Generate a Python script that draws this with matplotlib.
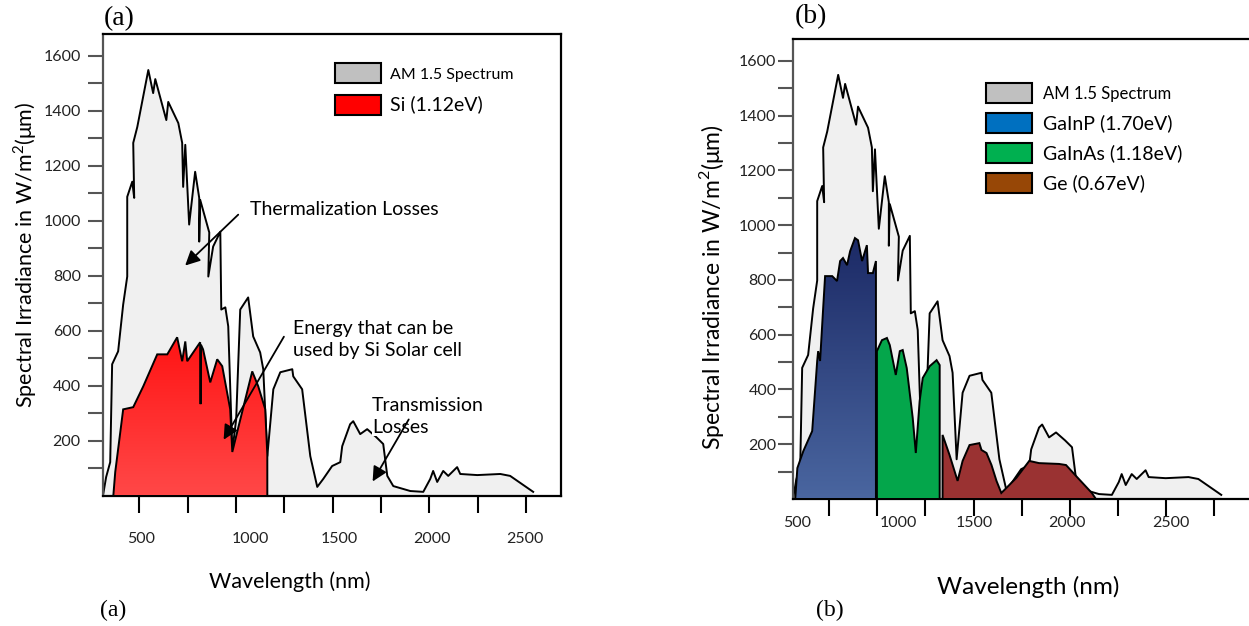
import numpy as np
import matplotlib.pyplot as plt
from matplotlib.patches import Patch
from matplotlib.colors import LinearSegmentedColormap

plt.rcParams['font.family'] = ['Lato', 'DejaVu Sans']
plt.rcParams['mathtext.fontset'] = 'custom'
plt.rcParams['mathtext.rm'] = 'Lato'

# AM 1.5 spectrum outline (nm, W/m2/um)
am_wl = [314, 329, 350, 360, 391, 417, 438, 438, 464, 474, 469, 490, 547, 572, 583, 640, 650, 702,
         722, 727, 738, 758, 789, 810, 810, 815, 862, 857, 882, 919, 924, 945, 960, 981, 1001, 1022,
         1063, 1089, 1125, 1141, 1162, 1193, 1229, 1291, 1296, 1342, 1384, 1420, 1451, 1497, 1539,
         1549, 1590, 1606, 1642, 1678, 1725, 1761, 1782, 1813, 1901, 1968, 2004, 2019, 2040, 2071,
         2097, 2143, 2159, 2247, 2366, 2417, 2536]
am_W = [7, 69, 123, 479, 526, 696, 798, 1088, 1143, 1084, 1284, 1342, 1549, 1465, 1516, 1367, 1433, 1356,
        1284, 1124, 1277, 987, 1179, 1084, 925, 1077, 958, 798, 907, 961, 678, 686, 617, 163, 279, 678,
        722, 580, 522, 461, 145, 388, 450, 461, 435, 388, 145, 33, 62, 109, 123,
        181, 261, 272, 225, 243, 214, 189, 73, 36, 18, 15, 62, 91, 51, 91,
        73, 105, 80, 76, 80, 73, 15]

# Si (1.12 eV) usable part
si_wl = [366, 376, 417, 469, 521, 593, 645, 696, 722, 738, 748, 815, 817, 819, 830, 867, 903, 929,
         970, 981, 1006, 1084, 1115, 1151, 1162, 1162]
si_W = [0, 87, 315, 323, 399, 515, 515, 577, 490, 562, 490, 559, 334, 550, 533, 413, 497, 472,
        316, 160, 232, 453, 399, 316, 150, 0]

# triple junction cells
gainp_wl = [324, 335, 366, 412, 438, 443, 453, 469, 479, 516, 541, 557, 572, 593, 609, 634, 650, 671,
            696, 702, 727, 743, 743]
gainp_W = [0, 113, 175, 248, 504, 540, 504, 697, 814, 814, 796, 869, 880, 854, 905, 953, 945, 869,
           927, 825, 825, 869, 0]
gainas_wl = [748, 748, 774, 800, 815, 846, 867, 882, 903, 934, 950, 970, 986, 1022, 1058, 1074, 1074]
gainas_W = [0, 540, 580, 588, 562, 453, 540, 544, 478, 296, 168, 358, 442, 485, 507, 489, 0]
ge_wl = [1089, 1089, 1125, 1167, 1193, 1229, 1280, 1291, 1317, 1343, 1369, 1394, 1410, 1472, 1539,
         1590, 1694, 1730, 1782, 1864, 1885]
ge_W = [0, 234, 161, 66, 139, 197, 204, 179, 168, 124, 66, 22, 33, 77, 139,
        131, 128, 124, 84, 22, 0]

x_labels = ['500', '1000', '1500', '2000', '2500']
x_lab_pos_a = [510, 1074, 1534, 2014, 2495]
x_lab_pos_b = [335, 857, 1255, 1735, 2273]
y_labels = ['200', '400', '600', '800', '1000', '1200', '1400', '1600']

ylab = r'Spectral Irradiance in W/m$^2$(μm)'


def spectrum(ax):
    ax.fill(am_wl + [am_wl[-1], am_wl[0]], am_W + [0, 0], facecolor='#f0f0f0', edgecolor='none', zorder=1)
    ax.plot(am_wl, am_W, color='black', lw=1.4, solid_joinstyle='round', zorder=2)


def gradient_fill(ax, wl, w, top, bottom):
    poly = ax.fill(wl, w, facecolor='none', edgecolor='black', lw=1.4, zorder=4)[0]
    cmap = LinearSegmentedColormap.from_list('g', [bottom, top])
    im = ax.imshow(np.linspace(0, 1, 256).reshape(-1, 1), cmap=cmap, origin='lower', aspect='auto',
                   extent=[min(wl), max(wl), 0, max(w)], zorder=3)
    im.set_clip_path(poly)


def style(ax, lab_pos, xpad, ypad):
    ax.set_xlim(313, 2680)
    ax.set_ylim(0, 1680)
    ax.set_xticks(np.arange(500, 2501, 250), [''] * 9)
    ax.set_xticks(lab_pos, x_labels, minor=True)
    ax.tick_params(axis='x', which='major', length=12, width=1.5)
    ax.tick_params(axis='x', which='minor', length=0, pad=xpad, labelsize=11.5, labelcolor='#222222')
    ax.set_yticks(np.arange(200, 1601, 200), y_labels)
    ax.set_yticks(np.arange(100, 1600, 200), minor=True)
    ax.tick_params(axis='y', which='both', length=11, width=1.5, color='#555555', pad=ypad,
                   labelsize=11.5, labelcolor='#222222')
    for s in ax.spines.values():
        s.set_linewidth(1.6)
    ax.spines['left'].set_color('#555555')


fig = plt.figure(figsize=(12.49, 6.26), dpi=100)
arrow = dict(arrowstyle='-|>', color='black', lw=1.3, mutation_scale=22)

# ---- (a) Si ----
ax1 = fig.add_axes([0.0825, 0.2077, 0.3667, 0.738])
spectrum(ax1)
gradient_fill(ax1, si_wl, si_W, '#ff1414', '#ff4848')
style(ax1, x_lab_pos_a, 26, 5)
ax1.set_ylabel(ylab, fontsize=15.5)
ax1.yaxis.set_label_coords(-0.17, 0.522)
ax1.yaxis.label.set_va('center')
ax1.set_xlabel('Wavelength (nm)', fontsize=15.5)
ax1.xaxis.set_label_coords(0.408, -0.186)
ax1.xaxis.label.set_va('center')

leg = ax1.legend(handles=[Patch(facecolor='#c0c0c0', edgecolor='black', lw=1.5, label='AM 1.5 Spectrum'),
                          Patch(facecolor='#ff0000', edgecolor='black', lw=1.5, label='Si (1.12eV)')],
                 loc='upper left', bbox_to_anchor=(0.5066, 0.937), frameon=False, borderpad=0,
                 borderaxespad=0, handlelength=2.75, handleheight=1.47, handletextpad=0.55,
                 labelspacing=0.72, fontsize=12)
leg.get_texts()[0].set_fontsize(11.5)
leg.get_texts()[1].set_fontsize(14)

ax1.text(1074, 1041, 'Thermalization Losses', fontsize=14, va='center')
ax1.annotate('', xy=(727, 831), xytext=(1022, 1030), arrowprops=arrow)
ax1.text(1296, 570, 'Energy that can be\nused by Si Solar cell', fontsize=14, va='center', linespacing=1.35)
ax1.annotate('', xy=(929, 196), xytext=(1255, 588), arrowprops=arrow, zorder=6)
ax1.text(1704, 290, 'Transmission\nLosses', fontsize=14, va='center', linespacing=1.35, zorder=5,
         bbox=dict(facecolor='white', edgecolor='none', pad=0))
ax1.annotate('', xy=(1699, 44), xytext=(1900, 287), arrowprops=arrow, zorder=6)

# ---- (b) triple junction ----
ax2 = fig.add_axes([0.635, 0.2029, 0.365, 0.7348])
spectrum(ax2)
gradient_fill(ax2, gainp_wl, gainp_W, '#1c2a66', '#4a66a0')
ax2.fill(gainas_wl, gainas_W, facecolor='#04a64b', edgecolor='black', lw=1.4, zorder=4)
ax2.fill(ge_wl, ge_W, facecolor='#9a3232', edgecolor='black', lw=1.4, zorder=4)
style(ax2, x_lab_pos_b, 12, 1)
ax2.spines['right'].set_visible(False)
ax2.set_ylabel(ylab, fontsize=16.5)
ax2.yaxis.set_label_coords(-0.178, 0.461)
ax2.yaxis.label.set_va('center')
ax2.set_xlabel('Wavelength (nm)', fontsize=17.5)
ax2.xaxis.set_label_coords(0.515, -0.191)
ax2.xaxis.label.set_va('center')

leg2 = ax2.legend(handles=[Patch(facecolor='#c0c0c0', edgecolor='black', lw=1.5, label='AM 1.5 Spectrum'),
                           Patch(facecolor='#0070c0', edgecolor='black', lw=1.5, label='GaInP (1.70eV)'),
                           Patch(facecolor='#00b050', edgecolor='black', lw=1.5, label='GaInAs (1.18eV)'),
                           Patch(facecolor='#974706', edgecolor='black', lw=1.5, label='Ge (0.67eV)')],
                  loc='upper left', bbox_to_anchor=(0.423, 0.904), frameon=False, borderpad=0,
                  borderaxespad=0, handlelength=2.75, handleheight=1.47, handletextpad=0.7,
                  labelspacing=0.6, fontsize=12)
for t in leg2.get_texts():
    t.set_fontsize(14)
leg2.get_texts()[0].set_fontsize(12)

# panel letters
serif = ['Liberation Serif', 'DejaVu Serif']
fig.text(119 / 1249, 1 - 19 / 626, '(a)', family=serif, fontsize=20, ha='center', va='center')
fig.text(811 / 1249, 1 - 17 / 626, '(b)', family=serif, fontsize=20, ha='center', va='center')
fig.text(113 / 1249, 1 - 610 / 626, '(a)', family=serif, fontsize=17, ha='center', va='center')
fig.text(830 / 1249, 1 - 610 / 626, '(b)', family=serif, fontsize=17, ha='center', va='center')

fig.savefig('out.png', dpi=100)
